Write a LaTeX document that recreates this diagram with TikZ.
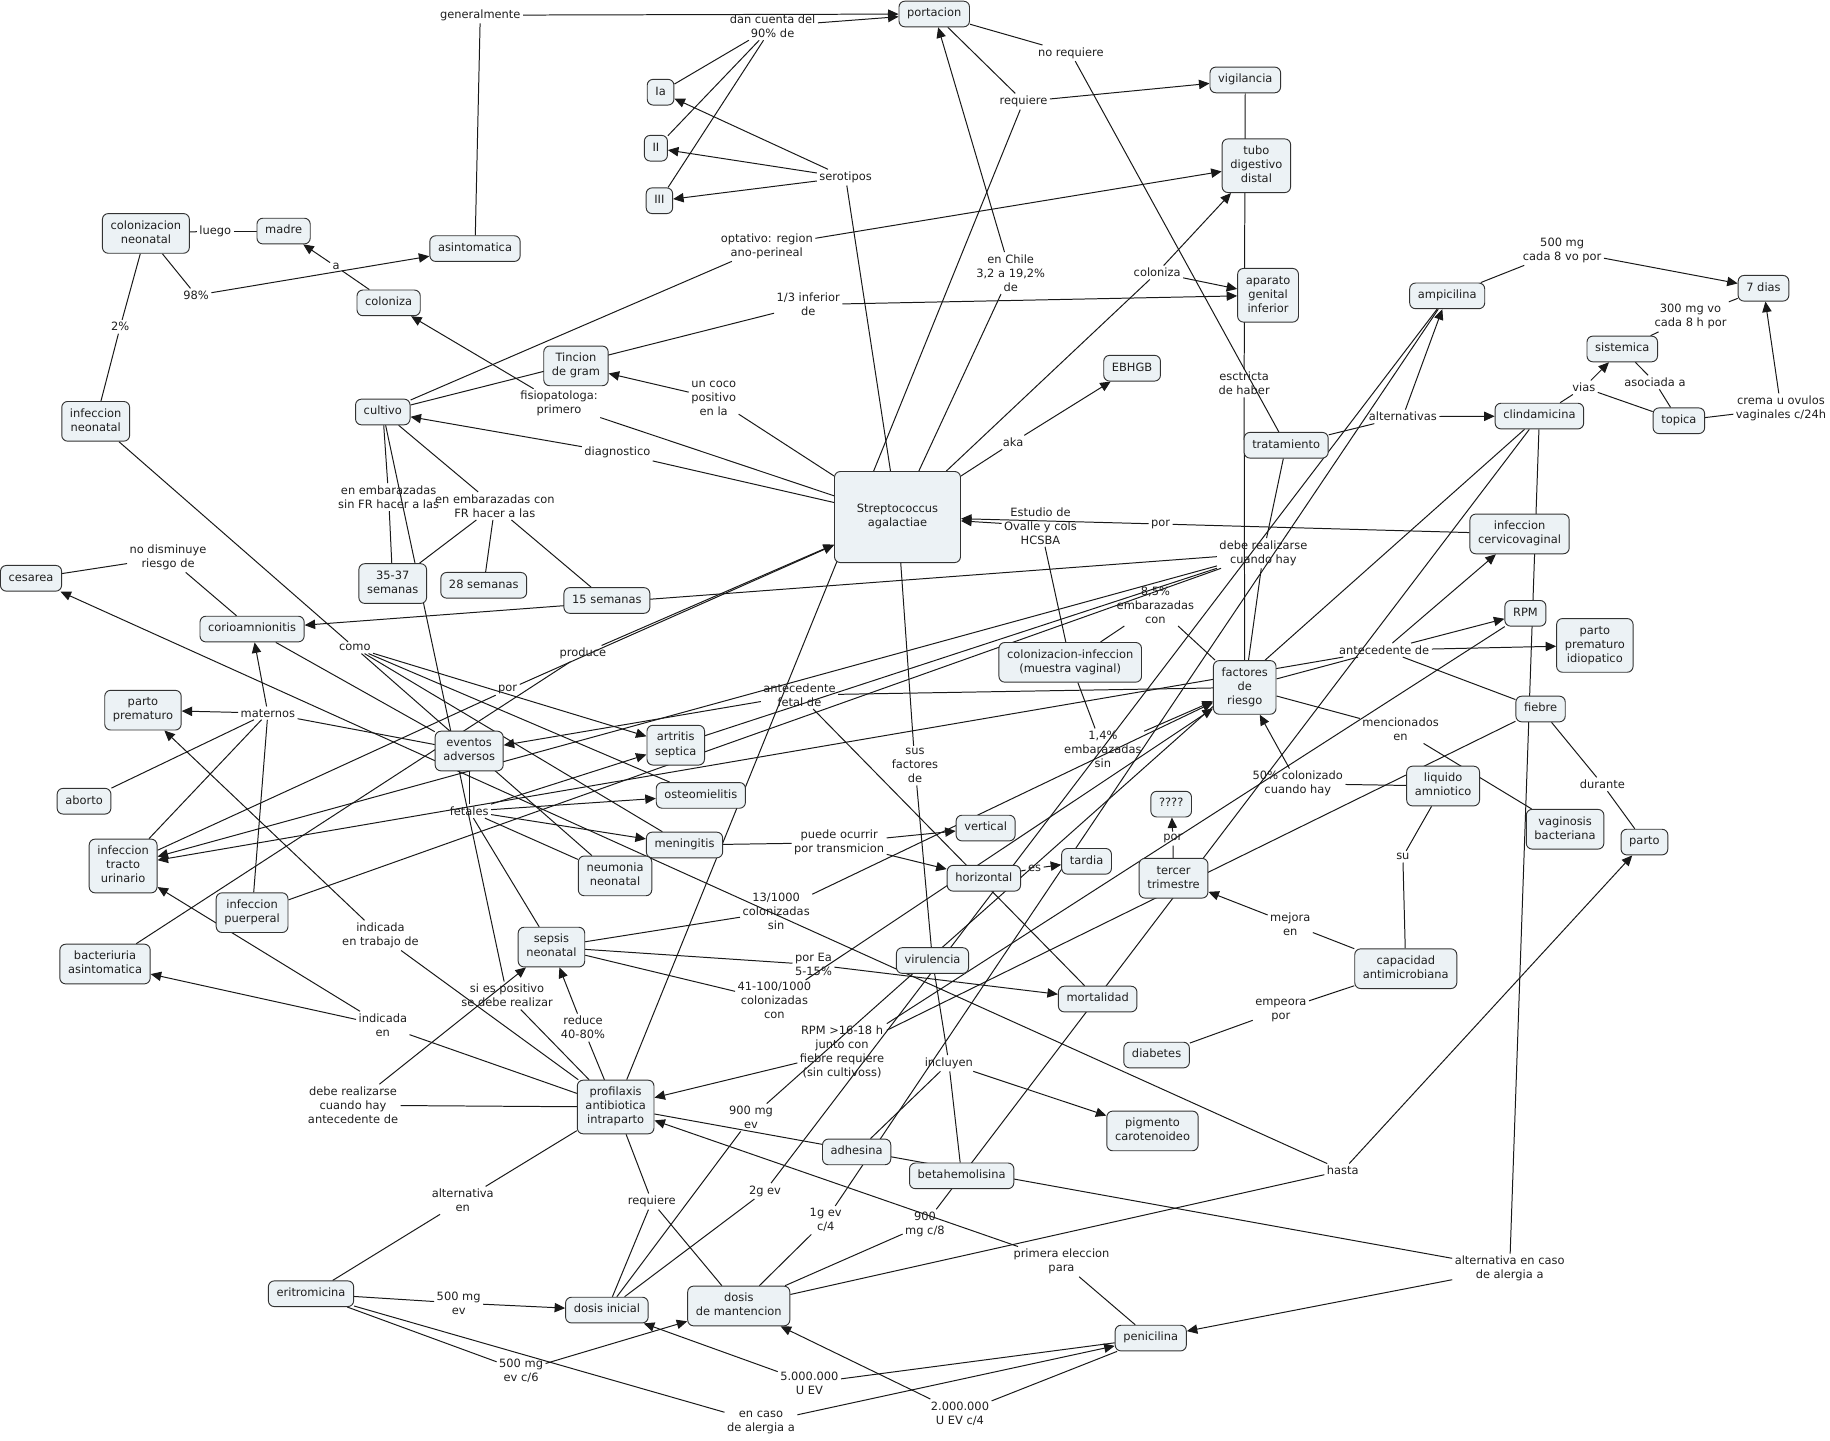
\documentclass[tikz,border=0pt]{standalone}
\usepackage{fontspec}
\setmainfont{DejaVu Sans}
\usetikzlibrary{arrows.meta}
\definecolor{cfill}{RGB}{236,242,245}
\definecolor{cline}{RGB}{25,25,25}
\pgfdeclarelayer{bg}
\pgfsetlayers{bg,main}
\newcommand\cbx[1]{\strut#1\strut}
\begin{document}
\begin{tikzpicture}[x=1pt,y=-1pt,
  every node/.style={font=\fontsize{9.8}{12}\selectfont, text=black!88},
  cn/.style={draw=black!80, line width=0.8pt, fill=cfill, rounded corners=5pt, align=center, inner xsep=7pt, inner ysep=5pt},
  lp/.style={align=center, inner sep=2pt},
  ln/.style={draw=cline, line width=0.85pt},
  ar/.style={ln, -{Triangle[length=9pt,width=8pt]}}]
\useasboundingbox (0,0) rectangle (1568,1234);
% ---------- concepts ----------
\node[cn] (portacion) at (800.5,12) {\cbx{portacion}};
\node[cn] (ia) at (566,79) {\cbx{Ia}};
\node[cn] (ii) at (562,127) {\cbx{II}};
\node[cn] (iii) at (565,172) {\cbx{III}};
\node[cn] (vigil) at (1067,68.5) {\cbx{vigilancia}};
\node[cn] (tubo) at (1076.5,142) {\cbx{tubo\\digestivo\\distal}};
\node[cn] (colneo) at (125,200) {\cbx{colonizacion\\neonatal}};
\node[cn] (madre) at (243,198) {\cbx{madre}};
\node[cn] (asint) at (407,213) {\cbx{asintomatica}};
\node[cn] (colz) at (333,259.5) {\cbx{coloniza}};
\node[cn] (apgen) at (1086.5,253) {\cbx{aparato\\genital\\inferior}};
\node[cn] (ampi) at (1240,253.5) {\cbx{ampicilina}};
\node[cn] (dias) at (1511,247) {\cbx{7 dias}};
\node[cn] (sist) at (1390,299) {\cbx{sistemica}};
\node[cn] (tincion) at (493.5,313.5) {\cbx{Tincion\\de gram}};
\node[cn] (ebhgb) at (970,315.5) {\cbx{EBHGB}};
\node[cn] (cultivo) at (328,353) {\cbx{cultivo}};
\node[cn] (infneo) at (82,361) {\cbx{infeccion\\neonatal}};
\node[cn] (trat) at (1102,381.5) {\cbx{tratamiento}};
\node[cn] (clinda) at (1319,356.5) {\cbx{clindamicina}};
\node[cn] (topica) at (1438.5,360.5) {\cbx{topica}};
\node[cn, minimum width=108pt, minimum height=78pt] (strep) at (769,443) {\cbx{Streptococcus\\agalactiae}};
\node[cn] (infcv) at (1302,457.5) {\cbx{infeccion\\cervicovaginal}};
\node[cn] (cesarea) at (26.6,495.5) {\cbx{cesarea}};
\node[cn] (s3537) at (336.5,500) {\cbx{35-37\\semanas}};
\node[cn] (s28) at (414.5,501.5) {\cbx{28 semanas}};
\node[cn] (s15) at (520,514.5) {\cbx{15 semanas}};
\node[cn] (corio) at (216,539) {\cbx{corioamnionitis}};
\node[cn] (rpm) at (1307,525.5) {\cbx{RPM}};
\node[cn] (ppi) at (1366.5,553) {\cbx{parto\\prematuro\\idiopatico}};
\node[cn] (colinf) at (917,567.5) {\cbx{colonizacion-infeccion\\(muestra vaginal)}};
\node[cn] (factores) at (1066.5,589) {\cbx{factores\\de\\riesgo}};
\node[cn] (pprem) at (122.5,608.5) {\cbx{parto\\prematuro}};
\node[cn] (fiebre) at (1320,607.5) {\cbx{fiebre}};
\node[cn] (eventos) at (402,643.5) {\cbx{eventos\\adversos}};
\node[cn] (artritis) at (579,638.5) {\cbx{artritis\\septica}};
\node[cn] (aborto) at (72,686.5) {\cbx{aborto}};
\node[cn] (osteo) at (600.5,681.5) {\cbx{osteomielitis}};
\node[cn] (liquido) at (1236.5,673.5) {\cbx{liquido\\amniotico}};
\node[cn] (qqqq) at (1003.5,689) {\cbx{????}};
\node[cn] (vagin) at (1341,710.5) {\cbx{vaginosis\\bacteriana}};
\node[cn] (parto) at (1409,721.5) {\cbx{parto}};
\node[cn] (vertical) at (844.5,709.5) {\cbx{vertical}};
\node[cn] (mening) at (586.5,724) {\cbx{meningitis}};
\node[cn] (tardia) at (931,738) {\cbx{tardia}};
\node[cn] (itu) at (105.5,742) {\cbx{infeccion\\tracto\\urinario}};
\node[cn] (neumonia) at (527,750.5) {\cbx{neumonia\\neonatal}};
\node[cn] (horiz) at (843,752.5) {\cbx{horizontal}};
\node[cn] (tercer) at (1005.5,752.5) {\cbx{tercer\\trimestre}};
\node[cn] (puerp) at (216,782) {\cbx{infeccion\\puerperal}};
\node[cn] (sepsis) at (472.5,811.5) {\cbx{sepsis\\neonatal}};
\node[cn] (virul) at (799,823) {\cbx{virulencia}};
\node[cn] (capac) at (1204.5,830) {\cbx{capacidad\\antimicrobiana}};
\node[cn] (bacter) at (90,826) {\cbx{bacteriuria\\asintomatica}};
\node[cn] (mortal) at (940.5,856) {\cbx{mortalidad}};
\node[cn] (diabetes) at (991,904) {\cbx{diabetes}};
\node[cn] (profil) at (527.5,948.5) {\cbx{profilaxis\\antibiotica\\intraparto}};
\node[cn] (pigmento) at (987.5,969) {\cbx{pigmento\\carotenoideo}};
\node[cn] (adhesina) at (734,987) {\cbx{adhesina}};
\node[cn] (betahem) at (824,1007.5) {\cbx{betahemolisina}};
\node[cn] (eritro) at (266.5,1108.5) {\cbx{eritromicina}};
\node[cn] (dosisini) at (520,1122.5) {\cbx{dosis inicial}};
\node[cn] (dosisman) at (633,1119) {\cbx{dosis\\de mantencion}};
\node[cn] (penicilina) at (986,1146.5) {\cbx{penicilina}};
% ---------- linking phrases ----------
\node[lp] (l_general) at (411.5,13) {generalmente};
\node[lp] (l_dancuenta) at (662,22.5) {dan cuenta del\\90\% de};
\node[lp] (l_norequiere) at (917.5,45.5) {no requiere};
\node[lp] (l_requiere) at (877,87) {requiere};
\node[lp] (l_serotipos) at (724.5,152) {serotipos};
\node[lp] (l_optativo) at (657,211) {optativo: region\\ano-perineal};
\node[lp] (l_enchile) at (866,234) {en Chile\\3,2 a 19,2\%\\de};
\node[lp] (l_coloniza) at (991.5,233.5) {coloniza};
\node[lp] (l_tercio) at (692.5,261) {1/3 inferior\\de};
\node[lp] (l_98) at (168,253) {98\%};
\node[lp] (l_luego) at (184.5,198) {luego};
\node[lp] (l_a) at (288,228.5) {a};
\node[lp] (l_2) at (103,280) {2\%};
\node[lp] (l_500cada) at (1338.5,214.5) {500 mg\\cada 8 vo por};
\node[lp] (l_300) at (1448.5,271.5) {300 mg vo\\cada 8 h por};
\node[lp] (l_asociada) at (1418,327.5) {asociada a};
\node[lp] (l_vias) at (1357,332) {vias};
\node[lp] (l_crema) at (1526,350) {crema u ovulos\\vaginales c/24h};
\node[lp] (l_alternativas) at (1202,357) {alternativas};
\node[lp] (l_estricta) at (1066,328.5) {esctricta\\de haber};
\node[lp] (l_fisio) at (479,346) {fisiopatologa:\\primero};
\node[lp] (l_coco) at (611.5,341) {un coco\\positivo\\en la};
\node[lp] (l_diag) at (529,388) {diagnostico};
\node[lp] (l_aka) at (868,379) {aka};
\node[lp] (l_estudio) at (891.5,450.5) {Estudio de\\Ovalle y cols\\HCSBA};
\node[lp] (l_por1) at (994.5,449) {por};
\node[lp] (l_sinFR) at (333,426) {en embarazadas\\sin FR hacer a las};
\node[lp] (l_conFR) at (424,433.5) {en embarazadas con\\FR hacer a las};
\node[lp] (l_nodism) at (144,477.5) {no disminuye\\riesgo de};
\node[lp] (l_debe) at (1082.5,474) {debe realizarse\\cuando hay};
\node[lp] (l_85) at (990,518.5) {8,5\%\\embarazadas\\con};
\node[lp] (l_como) at (304,555) {como};
\node[lp] (l_produce) at (499.5,560) {produce};
\node[lp] (l_por2) at (435,591) {por};
\node[lp] (l_antfetal) at (685,595.5) {antecedente\\fetal de};
\node[lp] (l_antde) at (1186,557) {antecedente de};
\node[lp] (l_maternos) at (229.5,611) {maternos};
\node[lp] (l_mencion) at (1200,625) {mencionados\\en};
\node[lp] (l_14) at (945,642) {1,4\%\\embarazadas\\sin};
\node[lp] (l_susfact) at (784,656) {sus\\factores\\de};
\node[lp] (l_50) at (1112,671.5) {50\% colonizado\\cuando hay};
\node[lp] (l_fetales) at (402,695) {fetales};
\node[lp] (l_durante) at (1373,672) {durante};
\node[lp] (l_por3) at (1005,718.5) {por};
\node[lp] (l_puede) at (719,722) {puede ocurrir\\por transmicion};
\node[lp] (l_es) at (886.5,744) {es};
\node[lp] (l_su) at (1202,734) {su};
\node[lp] (l_13) at (665,781) {13/1000\\colonizadas\\sin};
\node[lp] (l_indtrab) at (326,801.5) {indicada\\en trabajo de};
\node[lp] (l_mejora) at (1105.5,791.5) {mejora\\en};
\node[lp] (l_porEa) at (697,826.5) {por Ea\\5-15\%};
\node[lp] (l_sipos) at (434.5,853) {si es positivo\\se debe realizar};
\node[lp] (l_41) at (663.5,857.5) {41-100/1000\\colonizadas\\con};
\node[lp] (l_empeora) at (1097.5,865.5) {empeora\\por};
\node[lp] (l_indEn) at (328,878.5) {indicada\\en};
\node[lp] (l_reduce) at (499.5,880.5) {reduce\\40-80\%};
\node[lp] (l_rpm16) at (721.5,901.5) {RPM >16-18 h\\junto con\\fiebre requiere\\(sin cultivoss)};
\node[lp] (l_incluyen) at (813,911) {incluyen};
\node[lp] (l_debeAnt) at (302.5,947) {debe realizarse\\cuando hay\\antecedente de};
\node[lp] (l_900ev) at (643.5,957.5) {900 mg\\ev};
\node[lp] (l_hasta) at (1150.5,1003) {hasta};
\node[lp] (l_2g) at (655.5,1020.5) {2g ev};
\node[lp] (l_altEn) at (396.5,1028.5) {alternativa\\en};
\node[lp] (l_requiere2) at (558.5,1029.5) {requiere};
\node[lp] (l_1g) at (707.5,1045.5) {1g ev\\c/4};
\node[lp] (l_900c8) at (792.5,1049) {900\\mg c/8};
\node[lp] (l_primera) at (909.5,1081) {primera eleccion\\para};
\node[lp] (l_altAlerg) at (1293.5,1087) {alternativa en caso\\de alergia a};
\node[lp] (l_500ev) at (393,1116.5) {500 mg\\ev};
\node[lp] (l_500c6) at (446.5,1174.5) {500 mg\\ev c/6};
\node[lp] (l_5mill) at (693.5,1185) {5.000.000\\U EV};
\node[lp] (l_encaso) at (652,1219) {en caso\\de alergia a};
\node[lp] (l_2mill) at (822.5,1211) {2.000.000\\U EV c/4};
% ---------- connectors ----------
\begin{pgfonlayer}{bg}
\fill[white] (0,0) rectangle (1568,1234);
\draw[ln] (asint) -- (l_general); \draw[ar] (l_general) -- (portacion);
\draw[ln] (ia) -- (l_dancuenta); \draw[ln] (ii) -- (l_dancuenta); \draw[ln] (iii) -- (l_dancuenta);
\draw[ar] (l_dancuenta) -- (portacion);
\draw[ar] (l_serotipos) -- (ia); \draw[ar] (l_serotipos) -- (ii); \draw[ar] (l_serotipos) -- (iii);
\draw[ln] (strep) -- (l_serotipos);
\draw[ln] (portacion) -- (l_requiere); \draw[ar] (l_requiere) -- (vigil); \draw[ln] (l_requiere) -- (profil);
\draw[ln] (portacion) -- (l_norequiere); \draw[ln] (l_norequiere) -- (trat);
\draw[ln] (strep) -- (l_enchile); \draw[ar] (l_enchile) -- (portacion);
\draw[ln] (cultivo) -- (l_optativo); \draw[ar] (l_optativo) -- (tubo);
\draw[ln] (strep) -- (l_coloniza); \draw[ar] (l_coloniza) -- (tubo); \draw[ar] (l_coloniza) -- (apgen);
\draw[ln] (cultivo) -- (l_tercio); \draw[ar] (l_tercio) -- (apgen);
\draw[ln] (vigil) -- (l_estricta); \draw[ln] (l_estricta) -- (factores);
\draw[ln] (strep) -- (l_aka); \draw[ar] (l_aka) -- (ebhgb);
\draw[ln] (strep) -- (l_coco); \draw[ar] (l_coco) -- (tincion);
\draw[ln] (strep) -- (l_diag); \draw[ar] (l_diag) -- (cultivo);
\draw[ln] (strep) -- (l_fisio); \draw[ar] (l_fisio) -- (colz);
\draw[ln] (colz) -- (l_a); \draw[ar] (l_a) -- (madre);
\draw[ln] (colneo) -- (l_luego); \draw[ln] (l_luego) -- (madre);
\draw[ln] (colneo) -- (l_98); \draw[ar] (l_98) -- (asint);
\draw[ln] (colneo) -- (l_2); \draw[ln] (l_2) -- (infneo);
\draw[ln] (infneo) -- (l_como); \draw[ar] (l_como) -- (artritis);
\draw[ln] (l_como) -- (osteo); \draw[ln] (l_como) -- (mening); \draw[ln] (l_como) -- (neumonia);
\draw[ln] (cultivo) -- (l_sinFR); \draw[ln] (l_sinFR) -- (s3537);
\draw[ln] (cultivo) -- (l_conFR); \draw[ln] (l_conFR) -- (s3537); \draw[ln] (l_conFR) -- (s28); \draw[ln] (l_conFR) -- (s15);
\draw[ln] (cultivo) -- (l_sipos); \draw[ln] (l_sipos) -- (profil);
\draw[ln] (corio) -- (l_nodism); \draw[ln] (l_nodism) -- (cesarea);
\draw[ln] (trat) -- (l_debe); \draw[ln] (l_debe) -- (factores);
\draw[ar] (l_debe) -- (corio); \draw[ar] (l_debe) -- (itu);
\draw[ln] (l_debe) -- (artritis); \draw[ln] (l_debe) -- (puerp);
\draw[ln] (infcv) -- (l_por1); \draw[ar] (l_por1) -- (strep);
\draw[ln] (colinf) -- (l_estudio); \draw[ar] (l_estudio) -- (strep);
\draw[ln] (colinf) -- (l_85); \draw[ln] (l_85) -- (factores);
\draw[ln] (colinf) -- (l_14); \draw[ar] (l_14) -- (factores);
\draw[ln] (factores) -- (l_antde);
\draw[ar] (l_antde) -- (rpm); \draw[ar] (l_antde) -- (ppi); \draw[ar] (l_antde) -- (infcv);
\draw[ln] (l_antde) -- (fiebre); \draw[ar] (l_antde) -- (itu);
\draw[ln] (factores) -- (l_antfetal); \draw[ar] (l_antfetal) -- (eventos); \draw[ln] (l_antfetal) -- (mortal);
\draw[ln] (factores) -- (l_mencion); \draw[ln] (l_mencion) -- (vagin);
\draw[ln] (liquido) -- (l_50); \draw[ar] (l_50) -- (factores);
\draw[ln] (liquido) -- (l_su); \draw[ln] (l_su) -- (capac);
\draw[ln] (capac) -- (l_mejora); \draw[ar] (l_mejora) -- (tercer);
\draw[ln] (capac) -- (l_empeora); \draw[ln] (l_empeora) -- (diabetes);
\draw[ln] (tercer) -- (l_por3); \draw[ar] (l_por3) -- (qqqq);
\draw[ln] (fiebre) -- (l_durante); \draw[ln] (l_durante) -- (parto);
\draw[ln] (trat) -- (l_alternativas); \draw[ar] (l_alternativas) -- (ampi); \draw[ar] (l_alternativas) -- (clinda);
\draw[ln] (ampi) -- (l_500cada); \draw[ar] (l_500cada) -- (dias);
\draw[ln] (clinda) -- (l_vias); \draw[ar] (l_vias) -- (sist); \draw[ln] (l_vias) -- (topica);
\draw[ln] (sist) -- (l_asociada); \draw[ln] (l_asociada) -- (topica);
\draw[ln] (sist) -- (l_300); \draw[ln] (l_300) -- (dias);
\draw[ln] (topica) -- (l_crema); \draw[ar] (l_crema) -- (dias);
\draw[ln] (ampi) -- (l_2g); \draw[ln] (l_2g) -- (dosisini);
\draw[ln] (ampi) -- (l_1g); \draw[ln] (l_1g) -- (dosisman);
\draw[ln] (clinda) -- (l_900ev); \draw[ln] (l_900ev) -- (dosisini);
\draw[ln] (clinda) -- (l_900c8); \draw[ln] (l_900c8) -- (dosisman);
\draw[ln] (clinda) -- (l_altAlerg); \draw[ar] (l_altAlerg) -- (penicilina);
\draw[ln] (profil) -- (l_altAlerg);
\draw[ln] (penicilina) -- (l_primera); \draw[ar] (l_primera) -- (profil);
\draw[ln] (penicilina) -- (l_5mill); \draw[ar] (l_5mill) -- (dosisini);
\draw[ln] (penicilina) -- (l_2mill); \draw[ar] (l_2mill) -- (dosisman);
\draw[ln] (eritro) -- (l_500ev); \draw[ar] (l_500ev) -- (dosisini);
\draw[ln] (eritro) -- (l_500c6); \draw[ar] (l_500c6) -- (dosisman);
\draw[ln] (eritro) -- (l_encaso); \draw[ar] (l_encaso) -- (penicilina);
\draw[ln] (profil) -- (l_altEn); \draw[ln] (l_altEn) -- (eritro);
\draw[ln] (profil) -- (l_requiere2); \draw[ln] (l_requiere2) -- (dosisini); \draw[ln] (l_requiere2) -- (dosisman);
\draw[ln] (profil) -- (l_reduce); \draw[ar] (l_reduce) -- (sepsis);
\draw[ln] (profil) -- (l_debeAnt); \draw[ar] (l_debeAnt) -- (sepsis);
\draw[ln] (profil) -- (l_indEn); \draw[ar] (l_indEn) -- (bacter); \draw[ar] (l_indEn) -- (itu);
\draw[ln] (profil) -- (l_indtrab); \draw[ar] (l_indtrab) -- (pprem);
\draw[ln] (rpm) -- (l_rpm16); \draw[ln] (fiebre) -- (l_rpm16); \draw[ar] (l_rpm16) -- (profil);
\draw[ln] (dosisman) -- (l_hasta); \draw[ar] (l_hasta) -- (parto); \draw[ar] (l_hasta) -- (cesarea);
\draw[ln] (sepsis) -- (l_13); \draw[ar] (l_13) -- (factores);
\draw[ln] (sepsis) -- (l_41); \draw[ar] (l_41) -- (factores);
\draw[ln] (sepsis) -- (l_porEa); \draw[ar] (l_porEa) -- (mortal);
\draw[ln] (strep) -- (l_susfact); \draw[ln] (l_susfact) -- (virul);
\draw[ln] (virul) -- (l_incluyen); \draw[ln] (l_incluyen) -- (adhesina); \draw[ln] (l_incluyen) -- (betahem);
\draw[ar] (l_incluyen) -- (pigmento);
\draw[ln] (mening) -- (l_puede); \draw[ar] (l_puede) -- (vertical); \draw[ar] (l_puede) -- (horiz);
\draw[ln] (horiz) -- (l_es); \draw[ar] (l_es) -- (tardia);
\draw[ln] (eventos) -- (l_maternos); \draw[ar] (l_maternos) -- (pprem); \draw[ln] (l_maternos) -- (aborto);
\draw[ln] (l_maternos) -- (itu); \draw[ln] (l_maternos) -- (puerp); \draw[ar] (l_maternos) -- (corio);
\draw[ln] (eventos) -- (l_fetales); \draw[ar] (l_fetales) -- (artritis); \draw[ar] (l_fetales) -- (osteo);
\draw[ar] (l_fetales) -- (mening); \draw[ln] (l_fetales) -- (neumonia); \draw[ln] (l_fetales) -- (sepsis);
\draw[ln] (itu) -- (l_por2); \draw[ar] (l_por2) -- (strep);
\draw[ln] (bacter) -- (l_produce); \draw[ar] (l_produce) -- (strep);
\draw[ln] (corio) -- (eventos);
\end{pgfonlayer}
\end{tikzpicture}
\end{document}
